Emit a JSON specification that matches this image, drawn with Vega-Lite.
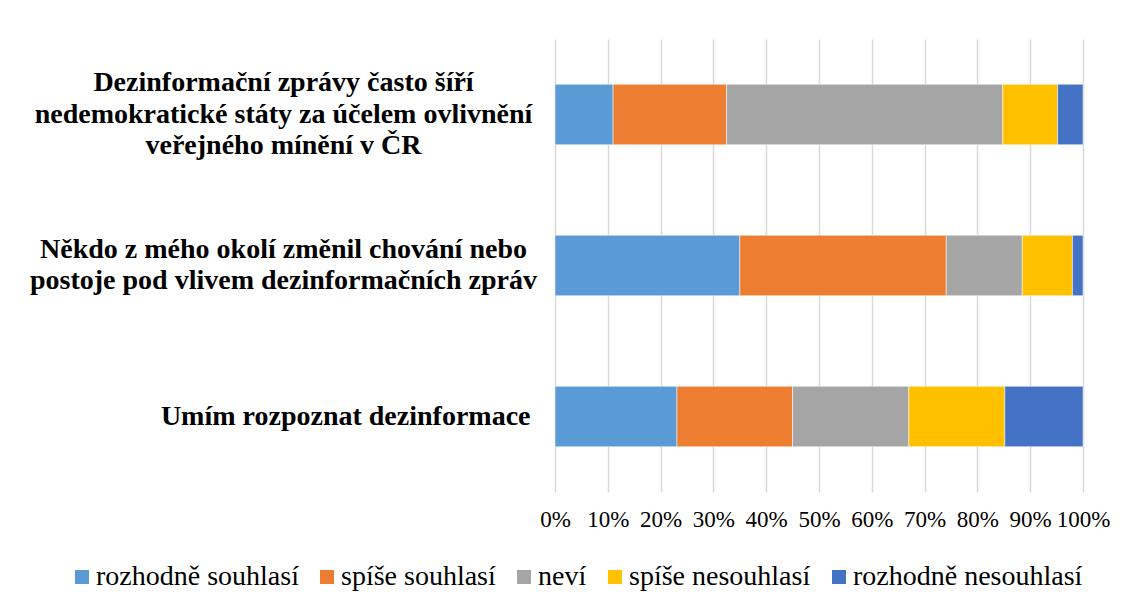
{
  "$schema": "https://vega.github.io/schema/vega-lite/v6.json",
  "width": 528,
  "height": 453,
  "autosize": {"type": "none"},
  "padding": {"left": 555, "top": 39, "right": 47, "bottom": 117},
  "background": "white",
  "config": {"view": {"stroke": null}, "font": "Liberation Serif"},
  "data": {
    "values": [
      {"q": "Dezinformační zprávy často šíří|nedemokratické státy za účelem ovlivnění|veřejného mínění v ČR", "k": "rozhodně souhlasí", "o": 1, "v": 11.0},
      {"q": "Dezinformační zprávy často šíří|nedemokratické státy za účelem ovlivnění|veřejného mínění v ČR", "k": "spíše souhlasí", "o": 2, "v": 21.5},
      {"q": "Dezinformační zprávy často šíří|nedemokratické státy za účelem ovlivnění|veřejného mínění v ČR", "k": "neví", "o": 3, "v": 52.3},
      {"q": "Dezinformační zprávy často šíří|nedemokratické státy za účelem ovlivnění|veřejného mínění v ČR", "k": "spíše nesouhlasí", "o": 4, "v": 10.4},
      {"q": "Dezinformační zprávy často šíří|nedemokratické státy za účelem ovlivnění|veřejného mínění v ČR", "k": "rozhodně nesouhlasí", "o": 5, "v": 4.8},
      {"q": "Někdo z mého okolí změnil chování nebo|postoje pod vlivem dezinformačních zpráv", "k": "rozhodně souhlasí", "o": 1, "v": 35.0},
      {"q": "Někdo z mého okolí změnil chování nebo|postoje pod vlivem dezinformačních zpráv", "k": "spíše souhlasí", "o": 2, "v": 39.1},
      {"q": "Někdo z mého okolí změnil chování nebo|postoje pod vlivem dezinformačních zpráv", "k": "neví", "o": 3, "v": 14.4},
      {"q": "Někdo z mého okolí změnil chování nebo|postoje pod vlivem dezinformačních zpráv", "k": "spíše nesouhlasí", "o": 4, "v": 9.5},
      {"q": "Někdo z mého okolí změnil chování nebo|postoje pod vlivem dezinformačních zpráv", "k": "rozhodně nesouhlasí", "o": 5, "v": 2.0},
      {"q": "Umím rozpoznat dezinformace", "k": "rozhodně souhlasí", "o": 1, "v": 23.1},
      {"q": "Umím rozpoznat dezinformace", "k": "spíše souhlasí", "o": 2, "v": 21.9},
      {"q": "Umím rozpoznat dezinformace", "k": "neví", "o": 3, "v": 22.0},
      {"q": "Umím rozpoznat dezinformace", "k": "spíše nesouhlasí", "o": 4, "v": 18.2},
      {"q": "Umím rozpoznat dezinformace", "k": "rozhodně nesouhlasí", "o": 5, "v": 14.8}
    ]
  },
  "mark": {"type": "bar", "stroke": "white", "strokeWidth": 0.5},
  "encoding": {
    "y": {
      "field": "q",
      "type": "nominal",
      "sort": [
        "Dezinformační zprávy často šíří|nedemokratické státy za účelem ovlivnění|veřejného mínění v ČR",
        "Někdo z mého okolí změnil chování nebo|postoje pod vlivem dezinformačních zpráv",
        "Umím rozpoznat dezinformace"
      ],
      "scale": {"paddingInner": 0.6, "paddingOuter": 0.3},
      "axis": {
        "title": null,
        "domain": false,
        "ticks": false,
        "labelExpr": "split(datum.label, '|')",
        "labelFont": "Liberation Serif",
        "labelFontWeight": "bold",
        "labelFontSize": 28,
        "labelLineHeight": 31.5,
        "labelColor": "black",
        "labelLimit": 0,
        "labelAlign": {"condition": {"test": "indexof(datum.value, 'Umím') === 0", "value": "right"}, "value": "center"},
        "labelPadding": {"condition": {"test": "indexof(datum.value, 'Umím') === 0", "value": 25}, "value": 272},
        "labelOffset": {
          "condition": [
            {"test": "indexof(datum.value, 'Dezinformační') === 0", "value": -31.5},
            {"test": "indexof(datum.value, 'Někdo') === 0", "value": -16}
          ],
          "value": 0
        }
      }
    },
    "x": {
      "field": "v",
      "type": "quantitative",
      "stack": "normalize",
      "scale": {"domain": [0, 1]},
      "axis": {
        "title": null,
        "format": "%",
        "values": [0, 0.1, 0.2, 0.3, 0.4, 0.5, 0.6, 0.7, 0.8, 0.9, 1],
        "grid": true,
        "gridColor": "#D9D9D9",
        "gridWidth": 1.5,
        "domain": false,
        "ticks": false,
        "labelFont": "Liberation Serif",
        "labelFontSize": 23,
        "labelColor": "black",
        "labelPadding": 16,
        "labelFlush": false
      }
    },
    "color": {
      "field": "k",
      "type": "nominal",
      "scale": {
        "domain": ["rozhodně souhlasí", "spíše souhlasí", "neví", "spíše nesouhlasí", "rozhodně nesouhlasí"],
        "range": ["#5B9BD5", "#ED7D31", "#A5A5A5", "#FFC000", "#4472C4"]
      },
      "legend": {
        "title": null,
        "orient": "none",
        "legendX": -487,
        "legendY": 524,
        "direction": "horizontal",
        "columns": 5,
        "symbolType": "square",
        "symbolSize": 196,
        "symbolStrokeWidth": 0,
        "labelFont": "Liberation Serif",
        "labelFontSize": 28,
        "labelColor": "black",
        "labelOffset": 0,
        "columnPadding": 14,
        "labelLimit": 0
      }
    },
    "order": {"field": "o"}
  }
}
